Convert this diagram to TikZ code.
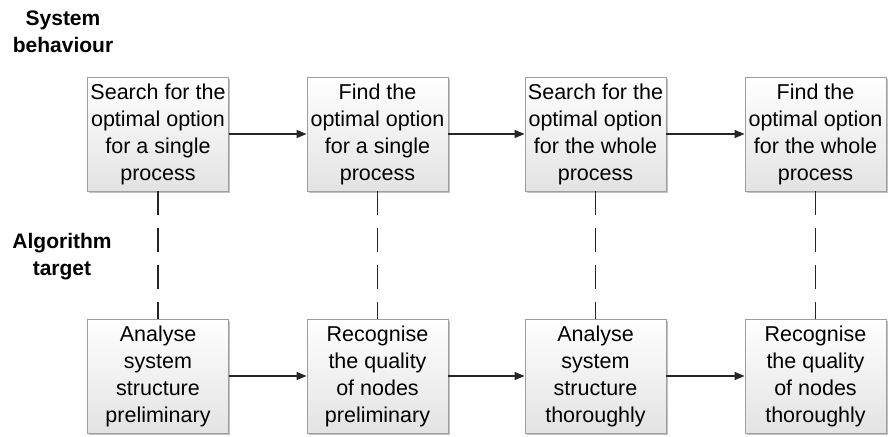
\documentclass[tikz,border=0pt]{standalone}
\usepackage{fontspec}
\setmainfont{Liberation Sans}
\usetikzlibrary{arrows.meta,shadows}
\begin{document}
\begin{tikzpicture}[x=1pt,y=-1pt,
  box/.style={draw=black!38, line width=0.9pt, top color=white, bottom color=black!11,
    minimum width=141pt, minimum height=114pt, inner sep=0pt, align=center,
    font=\fontsize{21.5}{27}\selectfont,
    drop shadow={shadow xshift=1.6pt, shadow yshift=-1.6pt, fill=black!40, opacity=0.6}},
  lab/.style={align=center, font=\fontsize{21}{27}\selectfont\bfseries},
  flow/.style={draw=black!85, line width=1.4pt, -{Triangle[length=10pt,width=8pt]}},
  link/.style={draw=black!85, line width=1.3pt, dash pattern=on 23.5pt off 13.5pt}]
\useasboundingbox (0,0) rectangle (890,436);
\node[lab] (sb) at (63,31.5) {System\\behaviour};
\node[lab] (at) at (62,256.5) {Algorithm\\target};
\node[box] (t1) at (158,134) {Search for the\\optimal option\\for a single\\process};
\node[box] (t2) at (377.5,134) {Find the\\optimal option\\for a single\\process};
\node[box] (t3) at (595.5,134) {Search for the\\optimal option\\for the whole\\process};
\node[box] (t4) at (815.5,134) {Find the\\optimal option\\for the whole\\process};
\node[box] (b1) at (158,376) {Analyse\\system\\structure\\preliminary};
\node[box] (b2) at (377.5,376) {Recognise\\the quality\\of nodes\\preliminary};
\node[box] (b3) at (595.5,376) {Analyse\\system\\structure\\thoroughly};
\node[box] (b4) at (815.5,376) {Recognise\\the quality\\of nodes\\thoroughly};
\draw[flow] (t1) -- (t2);
\draw[flow] (t2) -- (t3);
\draw[flow] (t3) -- (t4);
\draw[flow] (b1) -- (b2);
\draw[flow] (b2) -- (b3);
\draw[flow] (b3) -- (b4);
\draw[link] (t1.south) -- (b1.north);
\draw[link] (t2.south) -- (b2.north);
\draw[link] (t3.south) -- (b3.north);
\draw[link] (t4.south) -- (b4.north);
\end{tikzpicture}
\end{document}
